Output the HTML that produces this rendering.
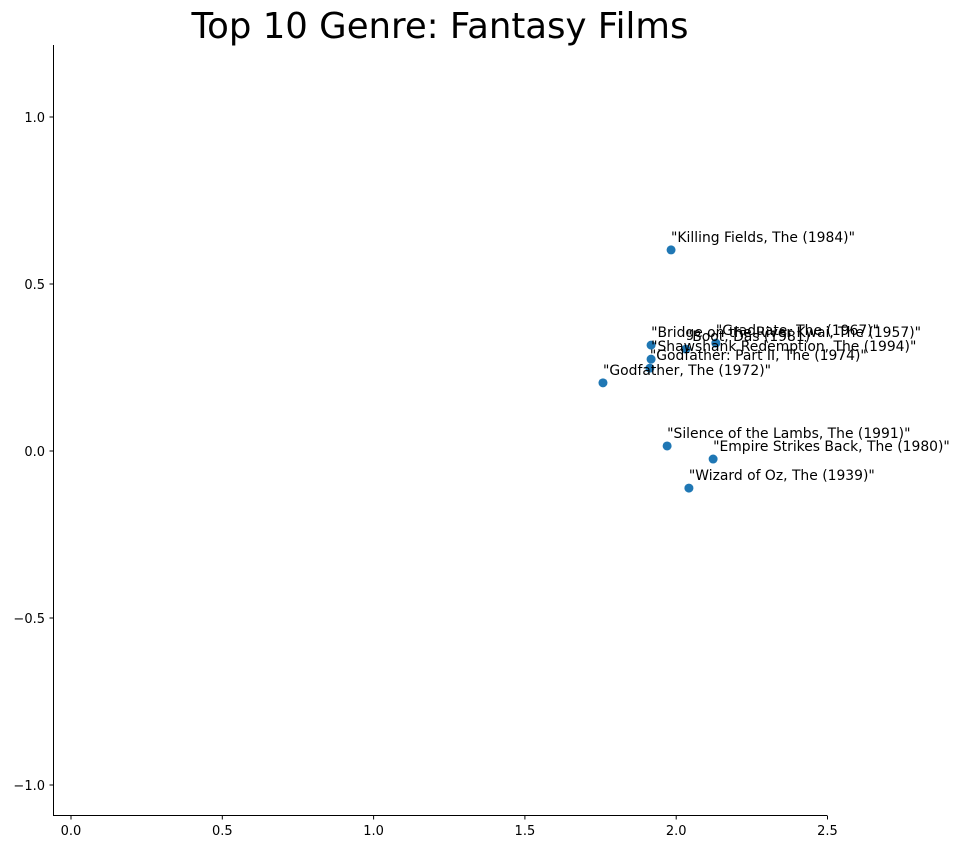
<!DOCTYPE html>
<html><head><meta charset="utf-8"><style>
body{margin:0;background:#fff;}
svg{font-family:"DejaVu Sans","Liberation Sans",sans-serif;}
</style></head><body>
<svg id="c" width="961" height="849">
<text x="440" y="38" text-anchor="middle" font-size="35.5" fill="#000">Top 10 Genre: Fantasy Films</text>
<g id="axes"></g><g id="pts"></g>
</svg>
<script>
const titles=['"Killing Fields, The (1984)"','"Graduate, The (1967)"','"Bridge on the River Kwai, The (1957)"','"Boot, Das (1981)"','"Shawshank Redemption, The (1994)"','"Godfather: Part II, The (1974)"','"Godfather, The (1972)"','"Silence of the Lambs, The (1991)"','"Empire Strikes Back, The (1980)"','"Wizard of Oz, The (1939)"'];
const xs=[1.983,2.131,1.917,2.032,1.917,1.913,1.758,1.970,2.122,2.042];
const ys=[0.602,0.323,0.317,0.305,0.275,0.248,0.204,0.015,-0.024,-0.111];
const xTicks=[0,0.5,1.0,1.5,2.0,2.5];
const yTicks=[-1.0,-0.5,0.0,0.5,1.0];
const xTickLabels=['0.0','0.5','1.0','1.5','2.0','2.5'];
const yTickLabels=['\u22121.0','\u22120.5','0.0','0.5','1.0'];
const NS='http://www.w3.org/2000/svg';
const X=v=>71+v*302.6, Y=v=>451-v*334;
function mk(t,a,p){const e=document.createElementNS(NS,t);for(const k in a)e.setAttribute(k,a[k]);p.appendChild(e);return e;}
const ax=document.getElementById('axes'),pg=document.getElementById('pts');
const l1=mk('line',{x1:53.5,y1:45,x2:53.5,y2:815.5,stroke:'#000','stroke-width':1},ax);


const l2=mk('line',{x1:53,y1:815.5,x2:827,y2:815.5,stroke:'#000','stroke-width':1},ax);


xTicks.forEach((v,i)=>{
 const t=mk('line',{x1:X(v),y1:815.5,x2:X(v),y2:819.5,stroke:'#000'},ax);
 
 
 const tx=mk('text',{x:X(v),y:835,'text-anchor':'middle','font-size':13},ax);
 tx.textContent=xTickLabels[i];
 
 
});
yTicks.forEach((v,i)=>{
 const t=mk('line',{x1:49.5,y1:Y(v),x2:53.5,y2:Y(v),stroke:'#000'},ax);
 
 
 const tx=mk('text',{x:45,y:Y(v)+5,'text-anchor':'end','font-size':13},ax);
 tx.textContent=yTickLabels[i];
 
 
});
xs.forEach((v,i)=>{
 const c=mk('circle',{cx:X(v),cy:Y(ys[i]),r:4.5,fill:'#1f77b4'},pg);
 
 
});
xs.forEach((v,i)=>{
 const t=mk('text',{x:X(v),y:Y(ys[i])-8,'font-size':13.9,fill:'#000'},pg);
 t.textContent=titles[i];
 
 
});
</script>
</body></html>
